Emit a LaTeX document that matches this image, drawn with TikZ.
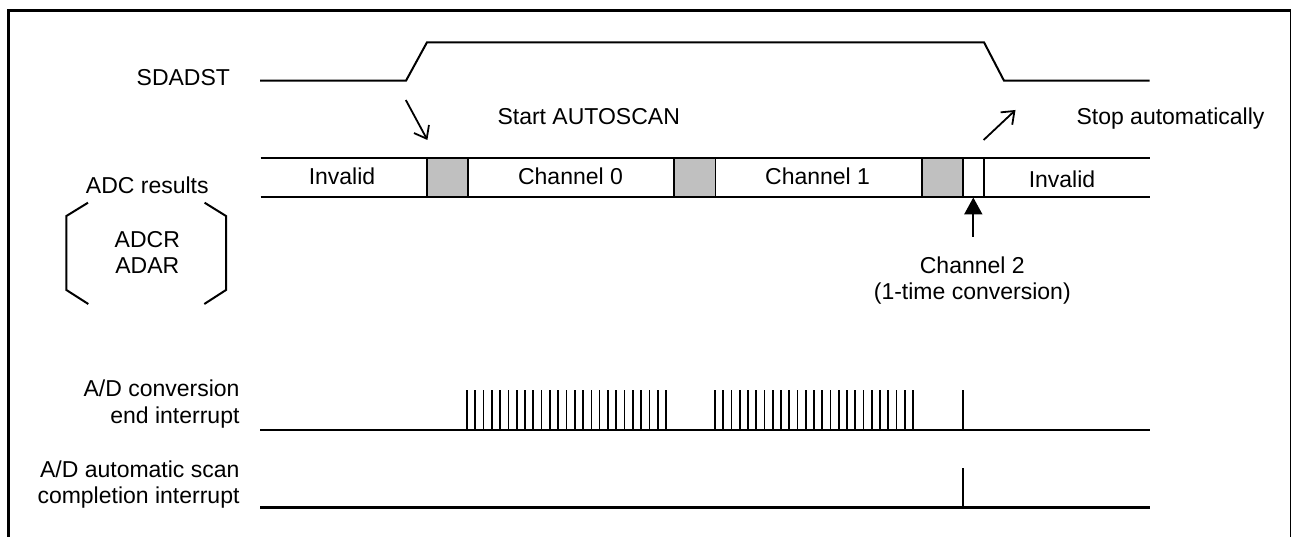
\documentclass[tikz,border=0pt]{standalone}
\usepackage{fontspec}
\setmainfont{Liberation Sans}
\usetikzlibrary{arrows.meta}
\definecolor{boxgrey}{HTML}{C0C0C0}
\begin{document}
\begin{tikzpicture}[x=1pt,y=-1pt,
  lbl/.style={inner sep=0pt, outer sep=0pt, font=\fontsize{23}{27}\selectfont},
  sig/.style={line width=2pt},
  bus/.style={line width=1.8pt},
  irq/.style={line width=2.6pt},
  pulse/.style={line width=1.7pt},
  brk/.style={line width=2pt},
  openarrow/.style={line width=1.8pt, -{Straight Barb[length=11pt,width=17pt]}},
  fillarrow/.style={line width=2pt, -{Triangle[length=17pt,width=18pt]}},
  frame/.style={line width=3pt}]
\useasboundingbox (0,0) rectangle (1291,537);
\clip (0,0) rectangle (1291,537);
% frame
\draw[frame] (8.5,545) -- (8.5,10.5) -- (1291,10.5) -- (1291,545);

% SDADST
\node[lbl, anchor=base east] (sdadst) at (230,86) {SDADST};
\draw[sig] (260,80.7) -- (406,80.7) -- (427,42.3) -- (984,42.3) -- (1004,80.7) -- (1149.5,80.7);

% start / stop arrows
\coordinate (startT) at (405.8,100);
\coordinate (startH) at (427.4,140);
\draw[openarrow] (startT) -- (startH);
\node[lbl, anchor=base] (start) at (588.7,124.3) {Start AUTOSCAN};
\coordinate (stopT) at (983.6,140);
\coordinate (stopH) at (1015.5,110);
\draw[openarrow] (stopT) -- (stopH);
\node[lbl, anchor=base] (stop) at (1170.5,124.6) {Stop automatically};

% bus
\draw[bus] (260.6,158.3) -- (1149.5,158.3);
\draw[bus] (260.6,196.7) -- (1149.5,196.7);
\draw[bus, fill=boxgrey] (426.6,158.3) rectangle (467.6,196.7);
\draw[bus, fill=boxgrey] (674,158.3) rectangle (715.5,196.7);
\draw[bus, fill=boxgrey] (922,158.3) rectangle (962.8,196.7);
\draw[bus] (984,158.3) -- (984,196.7);
\node[lbl, anchor=base] (inv1) at (342,184.3) {Invalid};
\node[lbl, anchor=base] (ch0) at (570.5,184.3) {Channel 0};
\node[lbl, anchor=base] (ch1) at (817.6,184.3) {Channel 1};
\node[lbl, anchor=base] (inv2) at (1062,187.5) {Invalid};

% ADC results bracket
\node[lbl, anchor=base] (adcres) at (147.3,194) {ADC results};
\node[lbl, anchor=base] (adcr) at (147.3,247.3) {ADCR};
\node[lbl, anchor=base] (adar) at (147.3,273.3) {ADAR};
\draw[brk] (88,202.7) -- (66.4,216) -- (66.4,290) -- (88.3,304);
\draw[brk] (204.6,202.7) -- (226,216) -- (226,290) -- (204.3,304);

% channel 2 arrow
\coordinate (ch2T) at (973.3,236.7);
\coordinate (ch2H) at (973.3,197.5);
\draw[fillarrow] (ch2T) -- (ch2H);
\node[lbl, anchor=base] (ch2a) at (972.3,273.3) {Channel 2};
\node[lbl, anchor=base] (ch2b) at (972.3,299.8) {(1-time conversion)};

% A/D conversion end interrupt
\node[lbl, anchor=base east] (adc1a) at (239.5,396.7) {A/D conversion};
\node[lbl, anchor=base east] (adc1b) at (239.5,423.7) {end interrupt};
\draw[irq] (260,430) -- (1149.5,430);
\foreach \i in {0,...,24} \draw[pulse] ({467+8.29*\i},430) -- ++(0,-40);
\foreach \i in {0,...,24} \draw[pulse] ({715+8.25*\i},430) -- ++(0,-40);
\draw[pulse] (963,430) -- ++(0,-40);

% A/D automatic scan completion interrupt
\node[lbl, anchor=base east] (adc2a) at (239.5,477.3) {A/D automatic scan};
\node[lbl, anchor=base east] (adc2b) at (239.5,503.5) {completion interrupt};
\draw[irq] (260,507.7) -- (1149.5,507.7);
\draw[pulse] (963,507.7) -- ++(0,-40);
\end{tikzpicture}
\end{document}
